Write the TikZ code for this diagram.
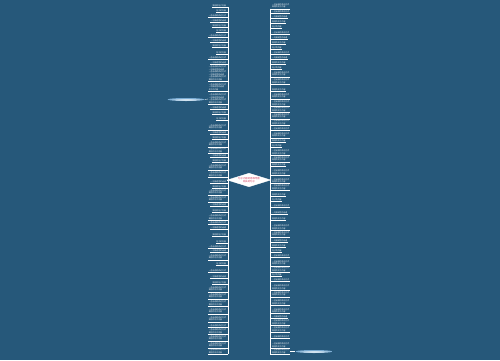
\documentclass[tikz,border=0pt]{standalone}
\usepackage{fontspec}
\newfontfamily\cjk{Noto Sans CJK SC}
\usetikzlibrary{shapes.geometric}
\definecolor{bg}{RGB}{38,88,122}
\definecolor{lensedge}{RGB}{120,170,210}
\definecolor{centertext}{RGB}{212,64,96}
\newcommand\lineA{一句描述性的话语}
\newcommand\lineB{简短的句子内容}
\newcommand\lineC{句子的内容}
\newcommand\lineD{一些话语的表达方式}
\newcommand\leaftext[2]{%
  \ifcase#1\or
    \ifcase#2 \lineA\or\lineB\or\lineC\or\lineD\fi
  \or \lineD\\\lineB
  \or \lineD\\\lineA\\\lineC
  \or \lineD\\\lineA\\\lineD\\\lineB
  \or \lineD\\\lineA\\\lineD\\\lineA\\\lineC
  \or \lineD\\\lineA\\\lineD\\\lineA\\\lineD\\\lineB
  \fi}
\begin{document}
\begin{tikzpicture}[x=1pt,y=-1pt,
  leaf/.style={font=\cjk\fontsize{1.9}{2.5}\selectfont, text=white, inner sep=0.4pt, align=left},
  under/.style={draw=white, line width=0.35pt},
  bracket/.style={draw=white, line width=0.8pt},
  centre/.style={diamond, aspect=3.2, fill=white, draw=white, inner sep=0.6pt, text=centertext,
    font=\cjk\fontsize{2.4}{3}\selectfont, align=center, minimum width=40pt, minimum height=13pt},
  lens/.style={ellipse, inner color=white, outer color=lensedge, minimum width=37pt, minimum height=3pt, inner sep=0pt}]
\fill[bg] (0,0) rectangle (500,360);
\useasboundingbox (0,0) rectangle (500,360);
\coordinate (lb) at (228,0);
\coordinate (rb) at (270,0);
\node[centre] (c) at (249,180) {句子内容的思维导图\\相关的句子};
% left leaves
\foreach \y/\n [count=\i] in {5.7/1,10.7/1,15.7/1,20.7/1,25.7/1,30.7/1,35.7/1,40.7/1,45.7/1,52.3/1,57.3/1,62.3/1,73.5/6,87/3,99/4,107.7/1,113/1,119/1,127/2,132.7/1,137.5/1,144/2,150.5/2,156/1,160.7/1,167/2,174.5/2,181.7/1,186.5/1,192/2,199/2,205/1,210.7/1,217.5/2,222.7/1,228/1,235/1,241.7/1,246.3/1,251/1,257/2,264/1,270.7/1,276.7/1,282.7/1,289/2,296/2,303.3/2,311/2,319/2,326/1,331.5/2,338/2,345/2,351.5/2}{
  \pgfmathtruncatemacro\v{mod(\i,4)}
  \node[leaf, anchor=east] (L\i) at (226.5,\y) {\leaftext{\n}{\v}};
  \draw[under] (L\i.south west) -- (L\i.south -| lb);
}
% right leaves
\foreach \y/\n [count=\i] in {6/2,11.7/1,16.7/1,21.7/1,26.7/1,32.3/1,37.7/1,42.7/1,47.3/1,52.3/1,57.3/1,62.3/1,67.3/1,74/2,81.5/2,89.3/1,96/2,103.3/2,109.5/2,116/2,122.5/2,129/1,135/2,141/1,146/1,152.3/2,159/2,165/1,172.3/2,180.8/2,187.3/2,195/1,200/1,206/1,212.7/1,218.3/1,227.3/2,234/2,240.5/1,245.5/1,250.5/1,256/1,263/2,269.3/2,275/1,280/1,287.3/2,294/2,302.3/2,310.8/2,316.7/1,322.5/2,329.3/2,337/1,345.3/2,351.5/2}{
  \pgfmathtruncatemacro\v{mod(\i+1,4)}
  \node[leaf, anchor=west] (R\i) at (271.5,\y) {\leaftext{\n}{\v}};
  \draw[under] (R\i.south -| rb) -- (R\i.south east);
}
% brackets joining the leaves to the centre
\draw[bracket] (L1.south -| lb) -- (L55.south -| lb);
\draw[bracket] (R1.south -| rb) -- (R56.south -| rb);
\draw[bracket] (c.west) -- (c.west -| lb);
\draw[bracket] (c.east) -- (c.east -| rb);
% side lens nodes
\node[lens] (s1) at (186,99.5) {};
\draw[under] (s1.east) -- (L15.west);
\node[lens] (s2) at (314,351.5) {};
\draw[under] (R56.east) -- (s2.west);
\end{tikzpicture}
\end{document}
